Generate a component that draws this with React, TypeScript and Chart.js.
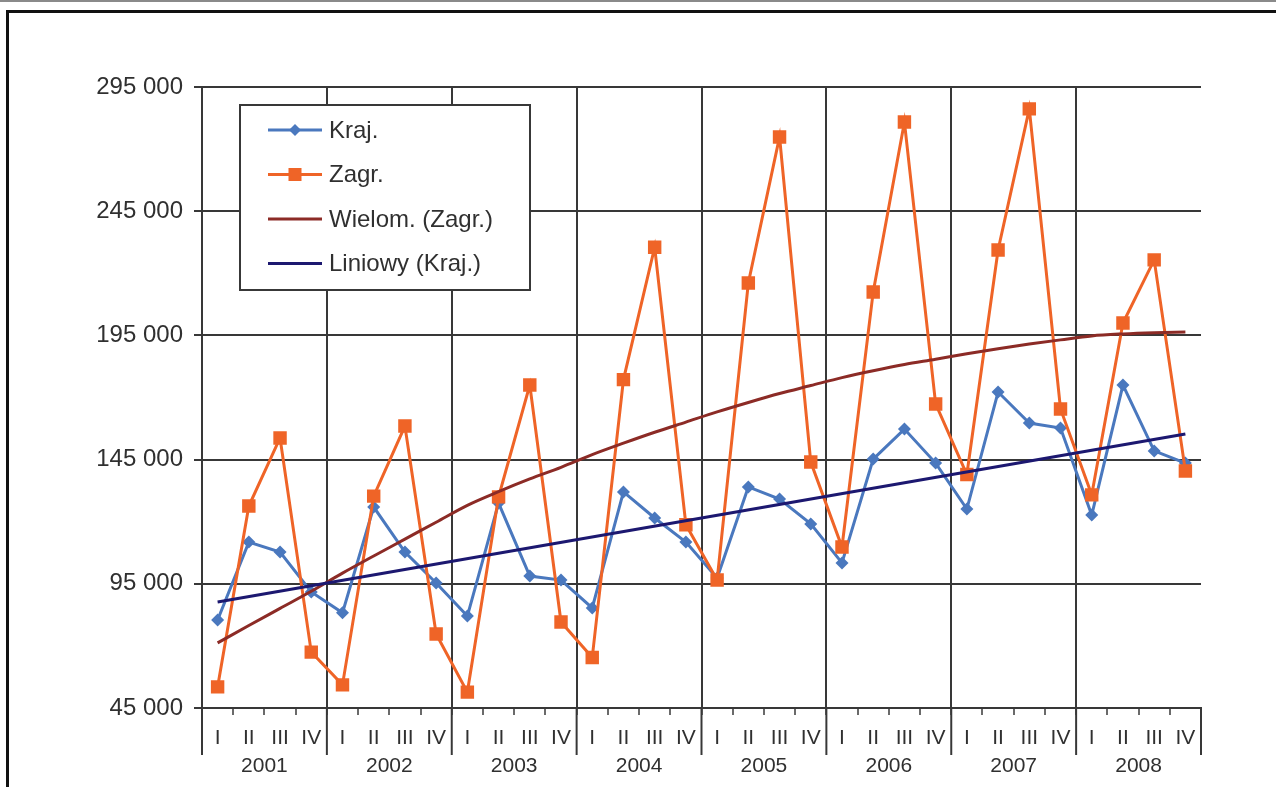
import React, { useEffect, useRef } from "react";
import { Chart, registerables } from "chart.js";

Chart.register(...registerables);

const years = ["2001", "2002", "2003", "2004", "2005", "2006", "2007", "2008"];
const quarters = ["I", "II", "III", "IV"];

const krajValues = [
  80400, 111800, 107800, 91700,
  83300, 125900, 107800, 95300,
  82000, 127500, 98100, 96500,
  85300, 132000, 121500, 111800,
  97300, 134000, 129100, 119100,
  103400, 145200, 157300, 143600,
  125100, 172200, 159700, 157700,
  122700, 175000, 148500, 143600,
];

const zagrValues = [
  53500, 126300, 153700, 67500,
  54300, 130300, 158500, 74800,
  51400, 130000, 175000, 79600,
  65300, 177200, 230500, 118800,
  96500, 216100, 274900, 144000,
  109800, 212500, 280900, 167400,
  139000, 229400, 286200, 165400,
  130800, 200000, 225400, 140400,
];

// Polynomial trend of Zagr. at each quarter
const wielomValues = [
  71200, 78200, 85100, 92000,
  99300, 106200, 113000, 119800,
  126600, 132100, 137200, 141900,
  147000, 151600, 156000, 160100,
  164200, 168000, 171600, 174800,
  178000, 180800, 183300, 185400,
  187600, 189600, 191500, 193200,
  194800, 195600, 196100, 196400,
];

// Linear trend of Kraj.: first and last quarter
const liniowyStart = 87700;
const liniowyEnd = 155300;

const yTicks = [45000, 95000, 145000, 195000, 245000, 295000];

const legendLabels = ["Kraj.", "Zagr.", "Wielom. (Zagr.)", "Liniowy (Kraj.)"];

const BLUE = "#4a78be";
const ORANGE = "#ef6427";
const DARKRED = "#8c2b26";
const NAVY = "#1c1870";
const GRID = "#383838";
const TEXT = "#303030";
const FONT = "'Liberation Sans', Arial, sans-serif";

export default function App() {
  const ref = useRef<HTMLCanvasElement | null>(null);

  useEffect(() => {
    const canvas = ref.current;
    if (!canvas) return;

    const labels = years.flatMap(() => quarters);
    const liniowyData = labels.map((_, i) =>
      i === 0 ? liniowyStart : i === labels.length - 1 ? liniowyEnd : null
    );

    const yearLinesPlugin = {
      id: "yearLines",
      afterDraw(chart: any) {
        const xs = chart.scales.x;
        const ctx = chart.ctx;
        const bottom = chart.chartArea.bottom;
        ctx.save();
        ctx.strokeStyle = GRID;
        ctx.lineWidth = 2;
        for (let k = 0; k <= years.length; k++) {
          const px = xs.getPixelForValue(k * quarters.length - 0.5);
          ctx.beginPath();
          ctx.moveTo(px, bottom);
          ctx.lineTo(px, bottom + 47);
          ctx.stroke();
        }
        ctx.restore();
      },
    };

    const legendPlugin = {
      id: "boxLegend",
      afterDraw(chart: any) {
        const ctx = chart.ctx;
        const ca = chart.chartArea;
        const bx = ca.left + 38;
        const by = ca.top + 18;
        const bw = 290;
        const bh = 185;
        ctx.save();
        ctx.fillStyle = "#ffffff";
        ctx.fillRect(bx, by, bw, bh);
        ctx.strokeStyle = GRID;
        ctx.lineWidth = 2;
        ctx.strokeRect(bx, by, bw, bh);
        const colors = [BLUE, ORANGE, DARKRED, NAVY];
        ctx.font = `24px ${FONT}`;
        ctx.textBaseline = "middle";
        ctx.textAlign = "left";
        for (let i = 0; i < legendLabels.length; i++) {
          const cy = by + 25 + i * 44.5;
          const x0 = bx + 28;
          const x1 = bx + 82;
          ctx.strokeStyle = colors[i];
          ctx.lineWidth = 3;
          ctx.beginPath();
          ctx.moveTo(x0, cy);
          ctx.lineTo(x1, cy);
          ctx.stroke();
          const mx = (x0 + x1) / 2;
          ctx.fillStyle = colors[i];
          if (i === 0) {
            ctx.beginPath();
            ctx.moveTo(mx, cy - 6);
            ctx.lineTo(mx + 6, cy);
            ctx.lineTo(mx, cy + 6);
            ctx.lineTo(mx - 6, cy);
            ctx.closePath();
            ctx.fill();
          } else if (i === 1) {
            ctx.fillRect(mx - 6.5, cy - 6.5, 13, 13);
          }
          ctx.fillStyle = TEXT;
          ctx.fillText(legendLabels[i], x1 + 7, cy + 1);
        }
        ctx.restore();
      },
    };

    const chart = new Chart(canvas, {
      type: "line",
      data: {
        labels,
        datasets: [
          {
            label: legendLabels[0],
            data: krajValues,
            borderColor: BLUE,
            backgroundColor: BLUE,
            borderWidth: 3,
            pointStyle: "rectRot",
            pointRadius: 6.5,
            pointBorderWidth: 0,
            pointBackgroundColor: BLUE,
            order: 4,
          },
          {
            label: legendLabels[1],
            data: zagrValues,
            borderColor: ORANGE,
            backgroundColor: ORANGE,
            borderWidth: 3,
            pointStyle: "rect",
            pointRadius: 9.5,
            pointBorderWidth: 0,
            pointBackgroundColor: ORANGE,
            order: 3,
          },
          {
            label: legendLabels[2],
            data: wielomValues,
            borderColor: DARKRED,
            borderWidth: 3,
            pointRadius: 0,
            cubicInterpolationMode: "monotone",
            order: 2,
          },
          {
            label: legendLabels[3],
            data: liniowyData,
            spanGaps: true,
            borderColor: NAVY,
            borderWidth: 3,
            pointRadius: 0,
            order: 1,
          },
        ],
      },
      options: {
        responsive: false,
        animation: false,
        events: [],
        layout: { padding: { left: 0, top: 87, right: 75, bottom: 5 } },
        plugins: {
          legend: { display: false },
          tooltip: { enabled: false },
          title: { display: false },
        },
        scales: {
          x: {
            type: "category",
            position: "bottom",
            offset: true,
            grid: {
              offset: true,
              drawOnChartArea: true,
              color: (c: any) => (c.index % 4 === 0 ? GRID : "rgba(0,0,0,0)"),
              lineWidth: 2,
              tickColor: GRID,
              tickWidth: 1.5,
              tickLength: 7,
            },
            border: { display: true, color: GRID, width: 2 },
            ticks: {
              autoSkip: false,
              maxRotation: 0,
              minRotation: 0,
              padding: 11,
              color: TEXT,
              font: { family: FONT, size: 21 },
            },
            afterFit: (s: any) => {
              s.height = 46;
            },
          },
          x2: {
            type: "category",
            labels: years,
            position: "bottom",
            offset: true,
            grid: { display: false, drawTicks: false, drawOnChartArea: false },
            border: { display: false },
            ticks: {
              autoSkip: false,
              maxRotation: 0,
              padding: 0,
              color: TEXT,
              font: { family: FONT, size: 21 },
            },
            afterFit: (s: any) => {
              s.height = 28;
            },
          },
          y: {
            type: "linear",
            min: yTicks[0],
            max: yTicks[yTicks.length - 1],
            afterBuildTicks: (s: any) => {
              s.ticks = yTicks.map((v) => ({ value: v }));
            },
            grid: {
              color: GRID,
              lineWidth: 2,
              tickColor: GRID,
              tickLength: 8,
            },
            border: { display: true, color: GRID, width: 2 },
            ticks: {
              padding: 11,
              color: TEXT,
              font: { family: FONT, size: 24 },
              callback: (v: any) => `${Math.round(Number(v) / 1000)} 000`,
            },
            afterFit: (s: any) => {
              s.width = 202;
            },
          },
        },
      },
      plugins: [yearLinesPlugin, legendPlugin],
    });

    return () => chart.destroy();
  }, []);

  return (
    <div
      style={{
        position: "absolute",
        left: 0,
        top: 0,
        width: 1276,
        height: 787,
        overflow: "hidden",
        background: "#ffffff",
      }}
    >
      <div
        style={{
          position: "absolute",
          left: 0,
          top: 0,
          width: 1276,
          height: 2,
          background: "#8a8a8a",
        }}
      />
      <div
        style={{
          position: "absolute",
          left: 6,
          top: 10,
          width: 1300,
          height: 800,
          borderLeft: "3px solid #111",
          borderTop: "3px solid #111",
        }}
      />
      <canvas
        ref={ref}
        width={1276}
        height={787}
        style={{ position: "absolute", left: 0, top: 0 }}
      />
    </div>
  );
}
